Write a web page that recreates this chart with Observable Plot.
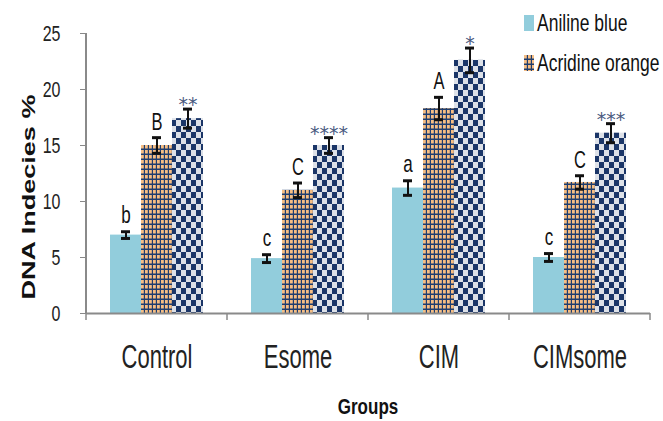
<!DOCTYPE html>
<html><head><meta charset="utf-8">
<script src="https://cdn.jsdelivr.net/npm/d3@7"></script>
<script src="https://cdn.jsdelivr.net/npm/@observablehq/plot@0.6"></script>
<style>body{margin:0;background:#fff}</style>
</head><body><div id="chart"></div>
<script>
const groups = ["Control", "Esome", "CIM", "CIMsome"];
const series = ["Aniline blue", "Acridine orange", "Series 3"];
const legendSeries = ["Aniline blue", "Acridine orange"];
const yTicks = [0, 5, 10, 15, 20, 25];

const anilineBlue = [7.0, 4.9, 11.2, 5.0];
const anilineErr = [0.3, 0.35, 0.65, 0.35];
const anilineLabels = ["b", "c", "a", "c"];

const acridineOrange = [15.0, 11.0, 18.3, 11.7];
const acridineErr = [0.7, 0.65, 1.0, 0.6];
const acridineLabels = ["B", "C", "A", "C"];

const series3 = [17.4, 15.0, 22.6, 16.1];
const series3Err = [0.85, 0.7, 1.1, 0.85];
const series3Labels = ["**", "****", "*", "***"];

const FONT = '"Liberation Sans", Arial, sans-serif';

const values = [anilineBlue, acridineOrange, series3];
const errs = [anilineErr, acridineErr, series3Err];
const labs = [anilineLabels, acridineLabels, series3Labels];
const rows = [];
groups.forEach((g, i) => series.forEach((s, j) => rows.push({
  group: g, series: s, value: values[j][i], err: errs[j][i], label: labs[j][i], k: j
})));

const lo = d => d.value - d.err;
const hi = d => d.value + d.err;

const plot = Plot.plot({
  width: 663, height: 421,
  marginTop: 33, marginBottom: 108, marginLeft: 85, marginRight: 12,
  style: {fontFamily: FONT, fontSize: "15px", color: "#222", background: "#fff", overflow: "visible"},
  fx: {domain: groups, padding: 0, label: null},
  x: {domain: series, paddingInner: 0, paddingOuter: 0.73, axis: null},
  y: {domain: [0, 25], label: null},
  color: {domain: series, range: ["#92CDDC", "url(#patTan)", "url(#patNavy)"]},
  marks: [
    Plot.axisY({ticks: yTicks, tickSize: 6, tickPadding: 20, stroke: "#888", color: "#222", label: null, fontSize: 16, fontFamily: FONT}),
    Plot.axisFx({anchor: "bottom", tickSize: 0, tickPadding: 31, label: null, fontSize: 22, fontFamily: FONT, color: "#222"}),
    Plot.barY(rows, {fx: "group", x: "series", y: "value", fill: "series"}),
    Plot.ruleY([0], {stroke: "#8a8a8a", strokeWidth: 2}),
    Plot.ruleX(rows, {fx: "group", x: "series", y1: lo, y2: hi, stroke: "#111", strokeWidth: 2}),
    Plot.tickY(rows, {fx: "group", x: "series", y: lo, inset: 11, stroke: "#111", strokeWidth: 3}),
    Plot.tickY(rows, {fx: "group", x: "series", y: hi, inset: 11, stroke: "#111", strokeWidth: 3}),
    Plot.text(rows.filter(d => d.k === 0), {fx: "group", x: "series", y: hi, text: "label", lineAnchor: "bottom", dy: -9, fontSize: 17, fontFamily: FONT, fill: "#111"}),
    Plot.text(rows.filter(d => d.k === 1), {fx: "group", x: "series", y: hi, text: "label", lineAnchor: "bottom", dy: -8, fontSize: 16.5, fontFamily: FONT, fill: "#111"}),
    Plot.text(rows.filter(d => d.k === 2), {fx: "group", x: "series", y: hi, text: "label", lineAnchor: "bottom", dy: 2, fontSize: 19, fontFamily: "DejaVu Sans", fill: "#4a5a80"})
  ]
});

const svg = d3.select(plot);
// vertical stretch of text as in the reference
const num = v => v != null && /^-?[\d.]+$/.test(v.trim());
const stretch = (sel, k) => sel.each(function () {
  const t = this.getAttribute("transform") || "";
  let tx = 0, ty = 0;
  const ax = this.getAttribute("x"), ay = this.getAttribute("y");
  if (num(ax)) { tx = +ax; this.removeAttribute("x"); }
  if (num(ay)) { ty = +ay; this.removeAttribute("y"); }
  this.setAttribute("transform", `${t} translate(${tx},${ty}) scale(1,${k})`);
});
stretch(svg.selectAll('g[aria-label="y-axis tick label"] text'), 1.4);
stretch(svg.selectAll('g[aria-label="fx-axis tick label"] text'), 1.5);
stretch(svg.selectAll('g[aria-label="text"] text').filter(function () { return !this.textContent.includes("*"); }), 1.4);

const defs = svg.insert("defs", ":first-child");
const tan = defs.append("pattern").attr("id", "patTan").attr("patternUnits", "userSpaceOnUse").attr("width", 4).attr("height", 5);
tan.append("rect").attr("width", 4).attr("height", 5).attr("fill", "#1F3D6E");
tan.append("rect").attr("width", 2.8).attr("height", 3.5).attr("fill", "#F6BE84");
const navy = defs.append("pattern").attr("id", "patNavy").attr("patternUnits", "userSpaceOnUse").attr("width", 10).attr("height", 12);
navy.append("rect").attr("width", 10).attr("height", 12).attr("fill", "#DDE1E8");
navy.append("rect").attr("width", 5).attr("height", 6).attr("fill", "#1B3668");
navy.append("rect").attr("x", 5).attr("y", 6).attr("width", 5).attr("height", 6).attr("fill", "#1B3668");

const fx = plot.scale("fx");
const y = plot.scale("y");
const bw = fx.bandwidth;
const x0 = fx.apply(groups[0]);
const y0 = y.apply(0);
// y axis line
svg.append("line").attr("x1", x0).attr("x2", x0).attr("y1", y.apply(25)).attr("y2", y0)
  .attr("stroke", "#8a8a8a").attr("stroke-width", 2);
// x boundary ticks
const bounds = groups.map(g => fx.apply(g)).concat([fx.apply(groups[groups.length - 1]) + bw]);
svg.append("g").selectAll("line").data(bounds).join("line")
  .attr("x1", d => d).attr("x2", d => d).attr("y1", y0).attr("y2", y0 + 7)
  .attr("stroke", "#8a8a8a").attr("stroke-width", 1.5);

// axis titles
svg.append("text").attr("transform", `translate(29,${(y.apply(25) + y0) / 2 + 24}) rotate(-90)`)
  .attr("text-anchor", "middle").attr("dominant-baseline", "central")
  .attr("font-family", FONT).attr("font-weight", "bold")
  .attr("font-size", 18).attr("textLength", 205).attr("lengthAdjust", "spacingAndGlyphs")
  .attr("fill", "#111").text("DNA Indecies %");
svg.append("text").attr("transform", `translate(${(x0 + bounds[bounds.length - 1]) / 2},414) scale(1,1.35)`)
  .attr("text-anchor", "middle").attr("font-family", FONT)
  .attr("font-weight", "bold").attr("font-size", 17).attr("fill", "#111").text("Groups");

// legend
const lg = svg.append("g").attr("font-family", FONT).attr("font-size", 17.5).attr("fill", "#111").attr("text-anchor", "start");
legendSeries.forEach((s, i) => {
  const yy = 15 + i * 40;
  lg.append("rect").attr("x", 524).attr("y", yy).attr("width", 10).attr("height", 16)
    .attr("fill", plot.scale("color").apply(s));
  lg.append("text").attr("transform", `translate(537,${yy + 16}) scale(1,1.4)`).text(s);
});

document.getElementById("chart").appendChild(plot);
</script>
</body></html>
